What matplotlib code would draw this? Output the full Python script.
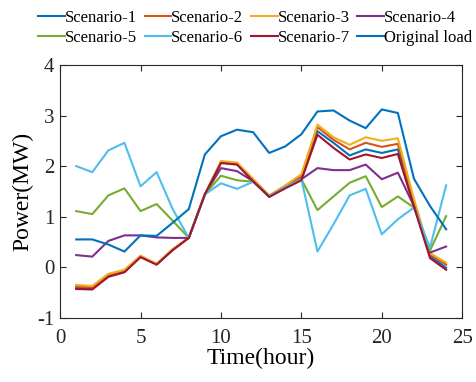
import matplotlib
matplotlib.use('Agg')
import matplotlib.pyplot as plt

plt.rcParams['font.family'] = ['Liberation Serif', 'DejaVu Serif']
plt.rcParams['axes.unicode_minus'] = False

hours = list(range(1, 25))

s1 = [-0.41, -0.42, -0.17, -0.09, 0.21, 0.06, 0.34, 0.58, 1.44, 2.07, 2.04, 1.72,
      1.40, 1.58, 1.76, 2.69, 2.46, 2.21, 2.33, 2.26, 2.33, 1.25, 0.22, -0.01]
s2 = [-0.38, -0.40, -0.15, -0.07, 0.22, 0.06, 0.35, 0.58, 1.44, 2.08, 2.05, 1.73,
      1.41, 1.60, 1.80, 2.77, 2.52, 2.33, 2.46, 2.38, 2.44, 1.30, 0.25, 0.05]
s3 = [-0.35, -0.37, -0.13, -0.05, 0.23, 0.07, 0.36, 0.58, 1.44, 2.10, 2.07, 1.75,
      1.42, 1.62, 1.84, 2.82, 2.57, 2.42, 2.57, 2.50, 2.55, 1.35, 0.28, 0.09]
s4 = [0.24, 0.21, 0.52, 0.63, 0.63, 0.59, 0.58, 0.58, 1.44, 1.96, 1.90, 1.70,
      1.40, 1.58, 1.74, 1.96, 1.92, 1.92, 2.03, 1.74, 1.87, 1.21, 0.29, 0.41]
s5 = [1.11, 1.05, 1.42, 1.56, 1.11, 1.25, 0.92, 0.58, 1.44, 1.81, 1.72, 1.69,
      1.40, 1.58, 1.74, 1.13, 1.40, 1.67, 1.80, 1.19, 1.40, 1.18, 0.33, 1.01]
s6 = [2.00, 1.88, 2.31, 2.46, 1.60, 1.88, 1.15, 0.58, 1.44, 1.66, 1.55, 1.69,
      1.40, 1.58, 1.74, 0.31, 0.85, 1.42, 1.55, 0.65, 0.95, 1.18, 0.39, 1.62]
s7 = [-0.43, -0.44, -0.19, -0.10, 0.20, 0.05, 0.34, 0.58, 1.44, 2.06, 2.03, 1.70,
      1.39, 1.56, 1.72, 2.62, 2.36, 2.13, 2.23, 2.16, 2.24, 1.20, 0.18, -0.05]
original = [0.55, 0.55, 0.45, 0.31, 0.63, 0.62, 0.88, 1.15, 2.23, 2.59, 2.72, 2.67,
            2.26, 2.39, 2.63, 3.08, 3.10, 2.90, 2.75, 3.12, 3.05, 1.75, 1.21, 0.75]

series = [s1, s2, s3, s4, s5, s6, s7, original]
labels = ['Scenario-1', 'Scenario-2', 'Scenario-3', 'Scenario-4',
          'Scenario-5', 'Scenario-6', 'Scenario-7', 'Original load']
colors = ['#0072BD', '#D95319', '#EDB120', '#7E2F8E',
          '#77AC30', '#4DBEEE', '#A2142F', '#0072BD']

fig = plt.figure(figsize=(4.77, 3.82), dpi=100)
ax = fig.add_axes([0.126, 0.168, 0.843, 0.662])

lines = []
for y, lab, c in zip(series, labels, colors):
    ln, = ax.plot(hours, y, color=c, lw=1.5, label=lab)
    lines.append(ln)

ax.set_xlim(0, 25)
ax.set_ylim(-1, 4)
ax.set_xticks([0, 5, 10, 15, 20, 25])
ax.set_yticks([-1, 0, 1, 2, 3, 4])
ax.tick_params(direction='in', top=True, right=True, labelsize=15,
               length=4, width=0.8, colors='#262626')
ax.tick_params(axis='x', pad=8)
ax.tick_params(axis='y', pad=4)
for sp in ax.spines.values():
    sp.set_color('#262626')
    sp.set_linewidth(0.8)

ax.set_xlabel('Time(hour)', fontsize=17, labelpad=0)
ax.set_ylabel('Power(MW)', fontsize=17, labelpad=3)

# matplotlib fills legend columns first; reorder so rows read 1-4, 5-8
order = [0, 4, 1, 5, 2, 6, 3, 7]
leg = fig.legend([lines[i] for i in order], [labels[i] for i in order],
                 loc='upper center', bbox_to_anchor=(0.535, 1.0), ncol=4,
                 frameon=False, fontsize=12, handlelength=1.6, handletextpad=0.0,
                 columnspacing=0.45, labelspacing=0.25, borderpad=0.1)

fig.savefig('out.png', dpi=100)
